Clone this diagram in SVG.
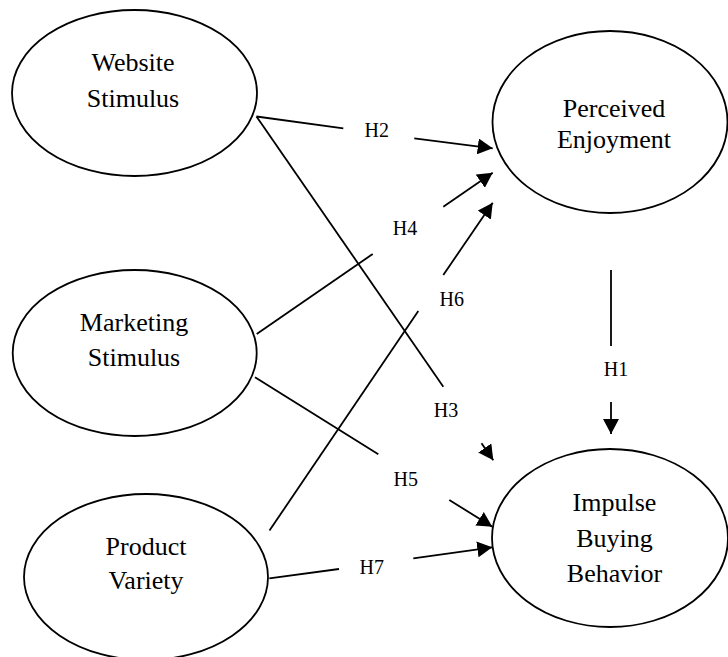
<svg xmlns="http://www.w3.org/2000/svg" width="728" height="657" viewBox="0 0 728 657">
  <style>
    .node ellipse { fill: #ffffff; stroke: #000000; stroke-width: 1.8; }
    .node text { font-family: 'Liberation Serif', 'Times New Roman', 'DejaVu Serif', serif; font-size: 26px; fill: #000000; text-anchor: middle; }
    .edges line { stroke: #000000; stroke-width: 1.8; fill: none; }
    .edges .head { marker-end: url(#arrow); }
    .edges text { font-family: 'Liberation Serif', 'Times New Roman', 'DejaVu Serif', serif; font-size: 20px; fill: #000000; text-anchor: middle; }
  </style>
  <defs>
    <marker id="arrow" markerUnits="userSpaceOnUse" viewBox="0 0 15 16" refX="15" refY="8" markerWidth="15" markerHeight="16" orient="auto">
      <path d="M0,0 L15,8 L0,16 Z" fill="#000000"/>
    </marker>
  </defs>
  <rect width="728" height="657" fill="#ffffff"/>

  <g id="website-stimulus" class="node">
    <ellipse cx="134.5" cy="93" rx="122.5" ry="83"/>
    <text x="133" y="70.5">Website</text>
    <text x="133" y="106.5">Stimulus</text>
  </g>

  <g id="marketing-stimulus" class="node">
    <ellipse cx="134.7" cy="353" rx="122" ry="83"/>
    <text x="134" y="331">Marketing</text>
    <text x="134" y="365.5">Stimulus</text>
  </g>

  <g id="product-variety" class="node">
    <ellipse cx="146" cy="577" rx="122" ry="83"/>
    <text x="146" y="555">Product</text>
    <text x="146" y="589">Variety</text>
  </g>

  <g id="perceived-enjoyment" class="node">
    <ellipse cx="610" cy="122" rx="117.5" ry="91"/>
    <text x="614" y="117">Perceived</text>
    <text x="614" y="147.5">Enjoyment</text>
  </g>

  <g id="impulse-buying-behavior" class="node">
    <ellipse cx="610" cy="538" rx="118" ry="89"/>
    <text x="614.5" y="510.5">Impulse</text>
    <text x="614.5" y="546.5">Buying</text>
    <text x="614.5" y="581.5">Behavior</text>
  </g>

  <g id="connectors" class="edges">
    <!-- H1: Perceived Enjoyment -> Impulse Buying Behavior -->
    <line x1="611" y1="270" x2="611" y2="346"/>
    <line class="head" x1="611" y1="402" x2="611" y2="434"/>
    <text x="616" y="376">H1</text>

    <!-- H2: Website Stimulus -> Perceived Enjoyment -->
    <line x1="256.5" y1="116.5" x2="343.3" y2="128.3"/>
    <line class="head" x1="414.3" y1="138.3" x2="492.7" y2="148.3"/>
    <text x="376.7" y="137.3">H2</text>

    <!-- H3: Website Stimulus -> Impulse Buying Behavior -->
    <line x1="256.5" y1="116.5" x2="443.3" y2="386.7"/>
    <line class="head" x1="481.5" y1="443.3" x2="493.3" y2="460.3"/>
    <text x="446" y="416.7">H3</text>

    <!-- H4: Marketing Stimulus -> Perceived Enjoyment -->
    <line x1="256.7" y1="334" x2="372.7" y2="254"/>
    <line class="head" x1="443.3" y1="206.7" x2="492.7" y2="172.7"/>
    <text x="405" y="235">H4</text>

    <!-- H5: Marketing Stimulus -> Impulse Buying Behavior -->
    <line x1="255" y1="377.3" x2="378.3" y2="454.3"/>
    <line class="head" x1="449.3" y1="500" x2="492.3" y2="526.7"/>
    <text x="405.7" y="486">H5</text>

    <!-- H6: Product Variety -> Perceived Enjoyment -->
    <line x1="269.5" y1="530.5" x2="418.3" y2="311"/>
    <line class="head" x1="443.3" y1="275" x2="492.7" y2="202.7"/>
    <text x="451.7" y="306">H6</text>

    <!-- H7: Product Variety -> Impulse Buying Behavior -->
    <line x1="269.3" y1="578.3" x2="339" y2="569"/>
    <line class="head" x1="413.3" y1="558.3" x2="492.3" y2="547.3"/>
    <text x="371.7" y="574">H7</text>
  </g>
</svg>
